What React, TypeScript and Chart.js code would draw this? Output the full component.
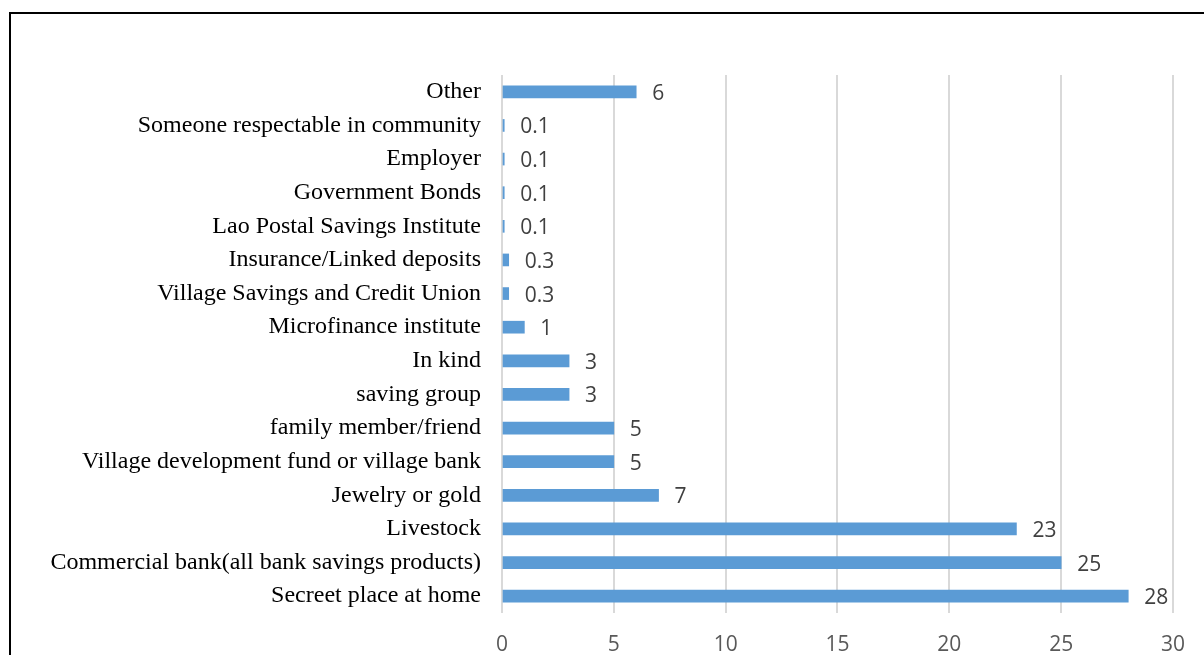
import React, { useEffect, useRef } from "react";
import { Chart, registerables } from "chart.js";

Chart.register(...registerables);

const categories: string[] = [
  "Other",
  "Someone respectable in community",
  "Employer",
  "Government Bonds",
  "Lao Postal Savings Institute",
  "Insurance/Linked deposits",
  "Village Savings and Credit Union",
  "Microfinance institute",
  "In kind",
  "saving group",
  "family member/friend",
  "Village development fund or village bank",
  "Jewelry or gold",
  "Livestock",
  "Commercial bank(all bank savings products)",
  "Secreet place at home",
];

const values: number[] = [6, 0.1, 0.1, 0.1, 0.1, 0.3, 0.3, 1, 3, 3, 5, 5, 7, 23, 25, 28];

const xTicks: number[] = [0, 5, 10, 15, 20, 25, 30];

const valueLabelPlugin = {
  id: "valueLabels",
  afterDatasetsDraw(chart: any) {
    const ctx = chart.ctx;
    const meta = chart.getDatasetMeta(0);
    ctx.save();
    ctx.font = "21px 'Open Sans'";
    ctx.fillStyle = "#404040";
    ctx.textAlign = "left";
    ctx.textBaseline = "middle";
    meta.data.forEach((bar: any, i: number) => {
      ctx.fillText(String(values[i]), bar.x + 16, bar.y + 2);
    });
    ctx.restore();
  },
};

export default function App() {
  const canvasRef = useRef<HTMLCanvasElement | null>(null);

  useEffect(() => {
    if (!canvasRef.current) return;
    const chart = new Chart(canvasRef.current, {
      type: "bar",
      data: {
        labels: categories,
        datasets: [
          {
            data: values,
            backgroundColor: "#5B9BD5",
            borderWidth: 0,
            barThickness: 12,
          },
        ],
      },
      options: {
        indexAxis: "y",
        animation: false,
        responsive: false,
        maintainAspectRatio: false,
        layout: { padding: { top: 75, right: 31, bottom: 0, left: 0 } },
        plugins: {
          legend: { display: false },
          tooltip: { enabled: false },
          title: { display: false },
        },
        scales: {
          x: {
            min: 0,
            max: 30,
            afterBuildTicks: (scale: any) => {
              scale.ticks = xTicks.map((v) => ({ value: v }));
            },
            afterFit: (scale: any) => {
              scale.height = 42;
            },
            grid: { color: "#d9d9d9", lineWidth: 2, drawTicks: false },
            border: { display: false },
            ticks: {
              padding: 19,
              color: "#595959",
              font: { family: "'Open Sans'", size: 21 },
            },
          },
          y: {
            afterFit: (scale: any) => {
              scale.width = 502;
            },
            grid: { display: false, drawTicks: false },
            border: { display: false },
            ticks: {
              padding: 21,
              color: "#000000",
              autoSkip: false,
              font: { family: "'Liberation Serif'", size: 24 },
            },
          },
        },
      },
      plugins: [valueLabelPlugin],
    });
    return () => chart.destroy();
  }, []);

  return (
    <div
      style={{
        position: "fixed",
        left: 0,
        top: 0,
        width: 1204,
        height: 655,
        overflow: "hidden",
        background: "#ffffff",
      }}
    >
      <canvas
        ref={canvasRef}
        width={1204}
        height={655}
        style={{ position: "absolute", left: 0, top: 0, width: 1204, height: 655 }}
      />
      <div
        style={{
          position: "absolute",
          left: 9,
          top: 12,
          width: 1240,
          height: 720,
          border: "2px solid #000000",
          boxSizing: "border-box",
          pointerEvents: "none",
        }}
      />
    </div>
  );
}
